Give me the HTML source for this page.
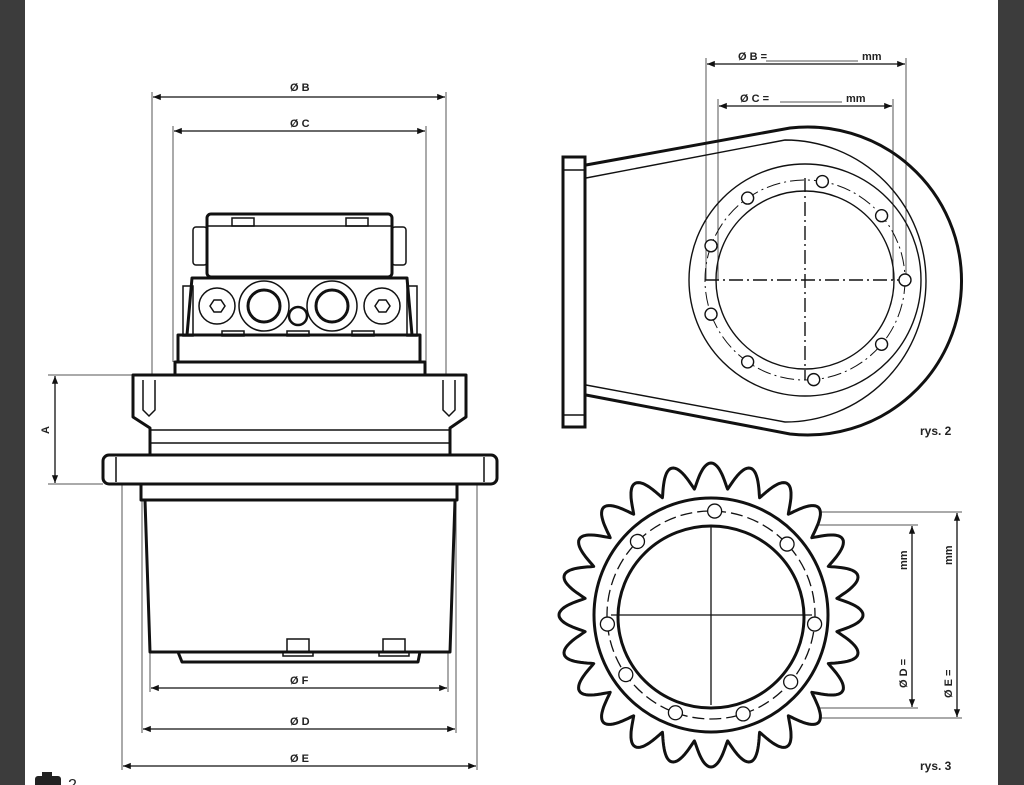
<!DOCTYPE html>
<html><head><meta charset="utf-8"><style>
html,body{margin:0;padding:0;width:1024px;height:785px;overflow:hidden;background:#fff}
.bl{position:absolute;top:0;left:0;width:25px;height:785px;background:#3c3c3c}
.br{position:absolute;top:0;left:998px;width:26px;height:785px;background:#3c3c3c}
svg{position:absolute;left:0;top:0}
text{font-family:"Liberation Sans",sans-serif;font-weight:bold;fill:#222}
</style></head><body>
<div class="bl"></div><div class="br"></div>
<svg width="1024" height="785" viewBox="0 0 1024 785">
<defs>
<marker id="a" viewBox="0 0 10 10" refX="10" refY="5" markerWidth="9" markerHeight="6" orient="auto-start-reverse"><path d="M0,1 L10,5 L0,9z" fill="#111"/></marker>
</defs>
<g stroke="#111" fill="none">
<g stroke-width="1" stroke="#555">
<line x1="152" y1="92" x2="152" y2="375"/><line x1="446" y1="92" x2="446" y2="375"/>
<line x1="173" y1="126" x2="173" y2="362"/><line x1="426" y1="126" x2="426" y2="362"/>
<line x1="122" y1="484" x2="122" y2="770"/><line x1="477" y1="484" x2="477" y2="770"/>
<line x1="142" y1="500" x2="142" y2="733"/><line x1="456" y1="500" x2="456" y2="733"/>
<line x1="150" y1="652" x2="150" y2="692"/><line x1="448" y1="652" x2="448" y2="692"/>
<line x1="48" y1="375" x2="133" y2="375"/><line x1="48" y1="484" x2="103" y2="484"/>
</g>
<g stroke-width="1.3" marker-start="url(#a)" marker-end="url(#a)">
<line x1="153" y1="97" x2="445" y2="97"/>
<line x1="174" y1="131" x2="425" y2="131"/>
<line x1="151" y1="688" x2="447" y2="688"/>
<line x1="143" y1="729" x2="455" y2="729"/>
<line x1="123" y1="766" x2="476" y2="766"/>
<line x1="55" y1="376" x2="55" y2="483"/>
</g>
<g stroke-width="3" stroke-linejoin="round">
<rect x="207" y="214" width="185" height="63" rx="4"/>
<path d="M192,278 L407,278 L412,335 L187,335 Z"/>
<rect x="178" y="335" width="242" height="27"/>
<rect x="175" y="362" width="250" height="13"/>
<path d="M133,375 L466,375 L466,417 L450,428 L450,455 L150,455 L150,428 L133,417 Z"/>
<rect x="103" y="455" width="394" height="29" rx="6"/>
<rect x="141" y="484" width="316" height="16"/>
<path d="M145,500 L455,500 L450,652 L150,652 Z"/>
<path d="M178,652 L420,652 L418,662 L182,662 Z"/>
</g>
<g stroke-width="1.5">
<rect x="193" y="227" width="14" height="38" rx="3"/><rect x="392" y="227" width="14" height="38" rx="3"/>
<rect x="232" y="218" width="22" height="8"/><rect x="346" y="218" width="22" height="8"/>
<line x1="207" y1="226" x2="392" y2="226"/>
<rect x="183" y="286" width="10" height="50"/><rect x="407" y="286" width="10" height="50"/>
<circle cx="217" cy="306" r="18"/><path d="M210,306 l4,-6 h7 l4,6 l-4,6 h-7z"/>
<circle cx="382" cy="306" r="18"/><path d="M375,306 l4,-6 h7 l4,6 l-4,6 h-7z"/>
<circle cx="264" cy="306" r="25"/><circle cx="264" cy="306" r="16" stroke-width="3"/>
<circle cx="332" cy="306" r="25"/><circle cx="332" cy="306" r="16" stroke-width="3"/>
<circle cx="298" cy="316" r="9" stroke-width="2.5"/>
<rect x="222" y="331" width="22" height="5"/><rect x="287" y="331" width="22" height="5"/><rect x="352" y="331" width="22" height="5"/>
<line x1="150" y1="430" x2="450" y2="430"/><line x1="150" y1="443" x2="450" y2="443"/>
<path d="M143,380 v30 l6,6 l6,-6 v-30"/><path d="M443,380 v30 l6,6 l6,-6 v-30"/>
<line x1="116" y1="457" x2="116" y2="482"/><line x1="484" y1="457" x2="484" y2="482"/>
<rect x="287" y="639" width="22" height="13"/><rect x="383" y="639" width="22" height="13"/>
<rect x="283" y="652" width="30" height="4"/><rect x="379" y="652" width="30" height="4"/>
</g>
<g stroke-width="1" stroke="#555">
<line x1="706" y1="58" x2="706" y2="280"/><line x1="906" y1="58" x2="906" y2="280"/>
<line x1="718" y1="99" x2="718" y2="280"/><line x1="893" y1="99" x2="893" y2="280"/>
<line x1="766" y1="61" x2="858" y2="61"/><line x1="780" y1="102" x2="842" y2="102"/>
</g>
<g stroke-width="1.3" marker-start="url(#a)" marker-end="url(#a)">
<line x1="707" y1="64" x2="905" y2="64"/>
<line x1="719" y1="106" x2="892" y2="106"/>
</g>
<g stroke-width="3">
<rect x="563" y="157" width="22" height="270"/>
<path d="M586,165 L790,128 A154,154 0 1 1 790,434 L586,395"/>
</g>
<g stroke-width="1.4">
<line x1="563" y1="170" x2="585" y2="170"/><line x1="563" y1="415" x2="585" y2="415"/>
<path d="M586,178 L785,140 A141,141 0 1 1 785,422 L586,385"/>
<circle cx="805" cy="280" r="116"/><circle cx="805" cy="280" r="89"/>
<circle cx="805" cy="280" r="100" stroke-dasharray="14,4,2,4" stroke-width="1"/>
<line x1="705" y1="280" x2="905" y2="280" stroke-dasharray="14,4,2,4"/>
<line x1="805" y1="178" x2="805" y2="380" stroke-dasharray="14,4,2,4"/>
<g id="h2"></g>
</g>
<text x="920" y="435" font-size="12" stroke="none">rys. 2</text>
<g stroke-width="1" stroke="#555">
<line x1="712" y1="512" x2="962" y2="512"/><line x1="712" y1="718" x2="962" y2="718"/>
<line x1="712" y1="525" x2="918" y2="525"/><line x1="712" y1="708" x2="918" y2="708"/>
</g>
<g stroke-width="1.3" marker-start="url(#a)" marker-end="url(#a)">
<line x1="912" y1="526" x2="912" y2="707"/>
<line x1="957" y1="513" x2="957" y2="717"/>
</g>
<path id="sp" stroke-width="3" stroke-linejoin="round" fill="#fff"/>
<g stroke-width="3"><circle cx="711" cy="615" r="117"/><ellipse cx="711" cy="617" rx="93" ry="91"/></g>
<g stroke-width="1.3">
<circle cx="711" cy="615" r="104" stroke-dasharray="12,5"/>
<line x1="611" y1="615" x2="812" y2="615"/><line x1="711" y1="527" x2="711" y2="705"/>
<g id="h3"></g>
</g>
<text x="920" y="770" font-size="12" stroke="none">rys. 3</text>
</g>
<g font-size="11">
<text x="290" y="91">Ø B</text><text x="290" y="127">Ø C</text>
<text x="290" y="684">Ø F</text><text x="290" y="725">Ø D</text><text x="290" y="762">Ø E</text>
<text x="0" y="0" transform="translate(49,434) rotate(-90)">A</text>
<text x="738" y="60">Ø B =</text><text x="862" y="60">mm</text>
<text x="740" y="102">Ø C =</text><text x="846" y="102">mm</text>
<text transform="translate(907,688) rotate(-90)">Ø D =</text>
<text transform="translate(907,570) rotate(-90)">mm</text>
<text transform="translate(952,698) rotate(-90)">Ø E =</text>
<text transform="translate(952,565) rotate(-90)">mm</text>
</g>
<rect x="35" y="776" width="26" height="12" rx="3" fill="#222"/><rect x="42" y="772" width="10" height="6" fill="#222"/>
<text x="68" y="790" font-size="16" style="font-weight:normal">2</text>
</svg>
<script>
var ns="http://www.w3.org/2000/svg";
function holes(id,cx,cy,r,angs,hr){var g=document.getElementById(id);angs.forEach(function(a){var t=a*Math.PI/180;var c=document.createElementNS(ns,"circle");c.setAttribute("cx",cx+r*Math.cos(t));c.setAttribute("cy",cy+r*Math.sin(t));c.setAttribute("r",hr);c.setAttribute("fill","#fff");g.appendChild(c);});}
holes("h2",805,280,100,[0,40,85,125,160,200,235,280,320],6);
holes("h3",711,615,104,[-88,-43,-135,175,5,145,40,110,72],7);
var cx=711,cy=615,N=24,ro=152,ri=127,d="",M=N*24;
for(var k=0;k<=M;k++){var th=k/M*2*Math.PI;var c=(1+Math.cos(N*(th+Math.PI/2)))/2;var f=Math.pow(c,0.55);var r=ri+(ro-ri)*f;
var x=cx+r*Math.cos(th),y=cy+r*Math.sin(th);d+=(k==0?"M":"L")+x.toFixed(1)+","+y.toFixed(1);}
document.getElementById("sp").setAttribute("d",d+"Z");
</script>
</body></html>
